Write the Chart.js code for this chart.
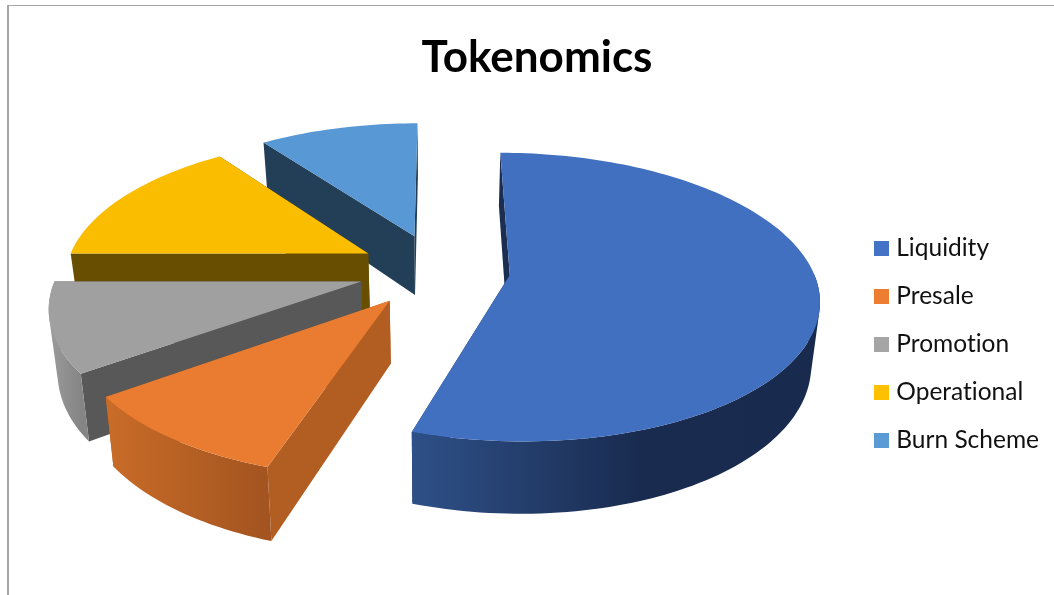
<!DOCTYPE html>
<html>
<head>
<meta charset="utf-8">
<title>Tokenomics</title>
<script src="https://cdn.jsdelivr.net/npm/chart.js@4/dist/chart.umd.js"></script>
<style>
html, body { margin: 0; background: #fff; overflow: hidden; }
#frame { position: absolute; left: 7px; top: 5px; width: 1100px; height: 700px; border-left: 2px solid #a6a6a6; border-top: 1px solid #a6a6a6; }
#myChart { position: absolute; left: 0; top: 0; }
</style>
</head>
<body>
<div id="frame"></div>
<canvas id="myChart" width="1054" height="595"></canvas>
<script>
const categories = ['Liquidity', 'Presale', 'Promotion', 'Operational', 'Burn Scheme'];
const shares = [55, 10, 10, 15, 10];
const explode = [72, 80, 80, 80, 80];

const sliceColors = ['#4472C4', '#ED7D31', '#A5A5A5', '#FFC000', '#5B9BD5'];
const topColors = ['#4270C0', '#E97C30', '#A0A0A0', '#FBBD00', '#5898D4'];
const sideColors = ['#1B2E52', '#B25E22', '#585858', '#674E00', '#233F57'];
const rimStops = [
    [[0, '#2E5088'], [0.56, '#192B4F'], [1, '#182A4E']],
    [[0, '#C96C28'], [1, '#A35420']],
    [[0, '#9C9C9C'], [1, '#858585']],
    [[0, '#7A5C00'], [1, '#674E00']],
    [[0, '#2A4A66'], [1, '#233F57']]
];

// tilted view of the pie, the rest of the picture is plain chart.js
const view = { tilt: 0.46, distance: 2000, lift: 74.5, shiftX: -2, depth: 61, floorScale: 0.977, legendDrop: 31 };

function project(arc, px, py, floor) {
    const cy = arc.y - view.lift;
    const s = 1 / (1 - py / view.distance);
    const xs = floor ? view.floorScale : 1;
    return {
        x: arc.x + view.shiftX + px * s * xs,
        y: cy + view.tilt * py * s + (floor ? view.depth * s : 0)
    };
}

function addPolygon(ctx, points) {
    points.forEach((p, i) => i ? ctx.lineTo(p.x, p.y) : ctx.moveTo(p.x, p.y));
    ctx.closePath();
}

function tracePolygon(ctx, points) {
    ctx.beginPath();
    addPolygon(ctx, points);
}

function signedArea(points) {
    let sum = 0;
    points.forEach((p, i) => {
        const q = points[(i + 1) % points.length];
        sum += p.x * q.y - q.x * p.y;
    });
    return sum;
}

function drawSlice(ctx, arc, index) {
    const mid = (arc.startAngle + arc.endAngle) / 2;
    const d = arc.options.offset;
    const ox = Math.cos(mid) * d;
    const oy = Math.sin(mid) * d;
    const r = arc.outerRadius;

    const rim = [];
    const steps = Math.ceil((arc.endAngle - arc.startAngle) * 40);
    for (let i = 0; i <= steps; i++) {
        const a = arc.startAngle + (arc.endAngle - arc.startAngle) * i / steps;
        rim.push({ px: ox + Math.cos(a) * r, py: oy + Math.sin(a) * r, facing: Math.sin(a) >= -0.02 });
    }
    const topRim = rim.map(p => project(arc, p.px, p.py, false));
    const floorRim = rim.map(p => project(arc, p.px, p.py, true));
    const apexTop = project(arc, ox, oy, false);
    const apexFloor = project(arc, ox, oy, true);

    // radial walls, back one first
    const walls = [
        [apexTop, topRim[0], floorRim[0], apexFloor],
        [apexTop, topRim[steps], floorRim[steps], apexFloor]
    ];
    walls.sort((a, b) => (a[0].y + a[1].y) - (b[0].y + b[1].y));
    ctx.fillStyle = sideColors[index];
    walls.forEach(w => { tracePolygon(ctx, w); ctx.fill(); });

    // outer wall, the back of the rim stays hidden under the top face
    const frontTop = topRim.filter((p, i) => rim[i].facing);
    const frontFloor = floorRim.filter((p, i) => rim[i].facing);
    if (frontTop.length > 1) {
        const xs = frontTop.map(p => p.x);
        const grad = ctx.createLinearGradient(Math.min(...xs), 0, Math.max(...xs), 0);
        rimStops[index].forEach(st => grad.addColorStop(st[0], st[1]));
        ctx.fillStyle = grad;
        // quads wound the same way in one path, so the fold at the silhouette leaves no hole
        ctx.beginPath();
        for (let i = 1; i < frontTop.length; i++) {
            const quad = [frontTop[i - 1], frontTop[i], frontFloor[i], frontFloor[i - 1]];
            addPolygon(ctx, signedArea(quad) < 0 ? quad.reverse() : quad);
        }
        ctx.fill();
    }

    // top face
    ctx.fillStyle = topColors[index];
    tracePolygon(ctx, [apexTop].concat(topRim));
    ctx.fill();
}

const tiltedPie = {
    id: 'tiltedPie',
    afterLayout(chart) {
        chart.legend.top += view.legendDrop;
        chart.legend.bottom += view.legendDrop;
    },
    beforeDraw(chart) {
        // no "ti" ligature in the legend
        chart.ctx.textRendering = 'optimizeSpeed';
    },
    beforeDatasetDraw(chart, args) {
        const ctx = chart.ctx;
        const arcs = args.meta.data;
        ctx.save();
        for (let i = arcs.length - 1; i >= 0; i--) {
            drawSlice(ctx, arcs[i], i);
        }
        ctx.restore();
        return false;
    }
};

function swatch(color) {
    const c = document.createElement('canvas');
    c.width = 15;
    c.height = 15;
    const g = c.getContext('2d');
    g.fillStyle = color;
    g.fillRect(0, 0, 15, 15);
    return c;
}

const myChart = new Chart(document.getElementById('myChart'), {
    type: 'pie',
    plugins: [tiltedPie],
    data: {
        labels: categories,
        datasets: [{
            data: shares,
            backgroundColor: sliceColors,
            offset: explode,
            borderWidth: 0
        }]
    },
    options: {
        responsive: false,
        animation: false,
        radius: 303,
        layout: { padding: { left: 25, right: 5, top: 31, bottom: 0 } },
        plugins: {
            tooltip: { enabled: false },
            title: {
                display: true,
                text: 'Tokenomics',
                color: '#000',
                font: { family: 'Lato', size: 44, weight: 'bold' },
                padding: { top: 0, bottom: 10 }
            },
            legend: {
                position: 'right',
                labels: {
                    color: '#111',
                    font: { family: 'Lato', size: 24.5 },
                    usePointStyle: true,
                    pointStyleWidth: 5,
                    boxHeight: 5,
                    padding: 23.5,
                    generateLabels(chart) {
                        const base = Chart.controllers.pie.overrides.plugins.legend.labels.generateLabels(chart);
                        base.forEach((item, i) => { item.pointStyle = swatch(sliceColors[i]); });
                        return base;
                    }
                }
            }
        }
    }
});
</script>
</body>
</html>
